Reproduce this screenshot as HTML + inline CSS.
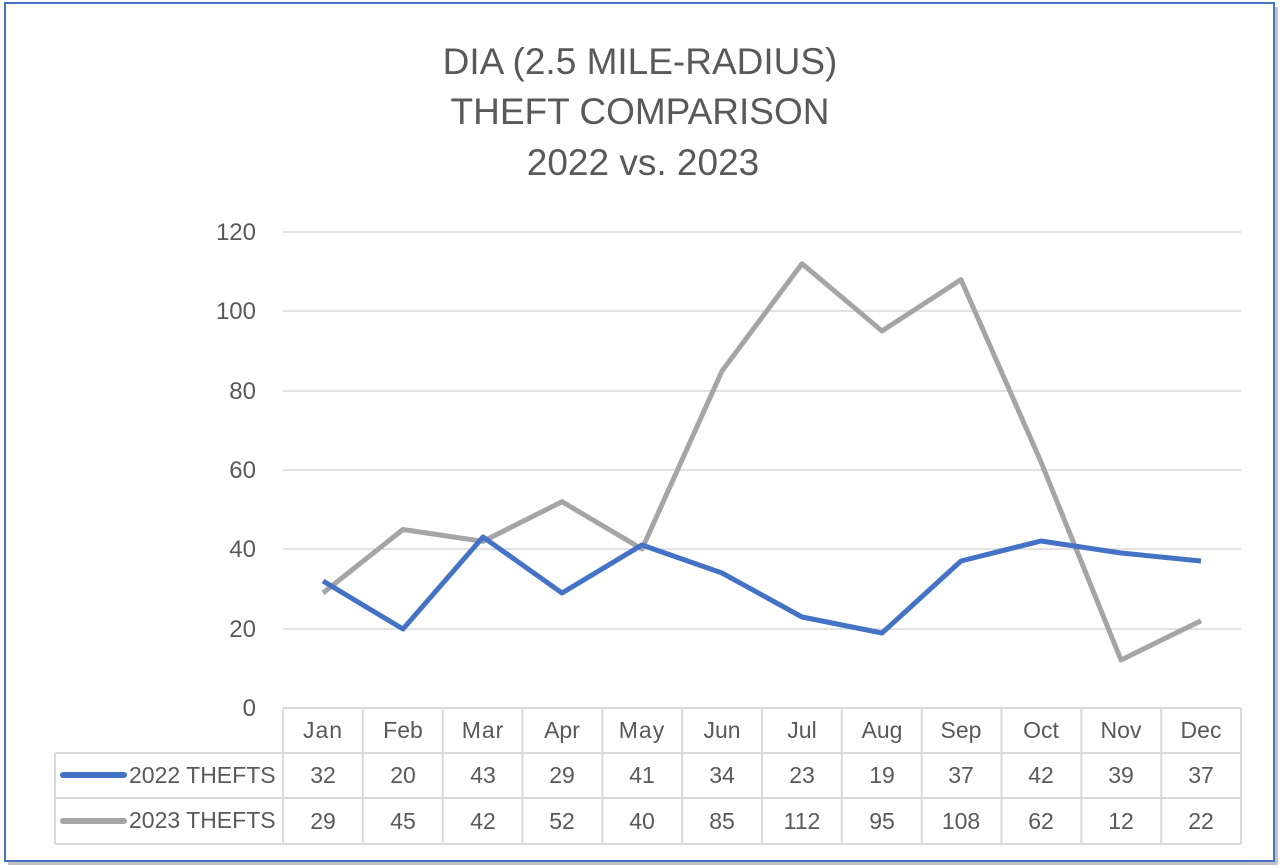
<!DOCTYPE html>
<html><head><meta charset="utf-8"><style>
html,body{margin:0;padding:0;background:#fff;width:1280px;height:868px;overflow:hidden}
svg{display:block;font-family:"Liberation Sans",sans-serif}
</style></head><body>
<svg width="1280" height="868" viewBox="0 0 1280 868">
<rect x="0" y="0" width="1280" height="868" fill="#fff"/>
<rect x="8" y="7" width="1270" height="858" fill="#9a9a9a" opacity="0.6"/>
<rect x="5" y="3" width="1269" height="858" fill="#fff" stroke="#4a72c4" stroke-width="2"/>
<g fill="#595959" font-size="37" text-anchor="middle">
<text x="640" y="74">DIA (2.5 MILE-RADIUS)</text>
<text x="640" y="124">THEFT COMPARISON</text>
<text x="643" y="175">2022 vs. 2023</text>
</g>
<g stroke="#d9d9d9" stroke-width="1.5">
<line x1="283" y1="232" x2="1241" y2="232"/>
<line x1="283" y1="311" x2="1241" y2="311"/>
<line x1="283" y1="391" x2="1241" y2="391"/>
<line x1="283" y1="470" x2="1241" y2="470"/>
<line x1="283" y1="549" x2="1241" y2="549"/>
<line x1="283" y1="629" x2="1241" y2="629"/>
</g>
<g fill="#595959" font-size="24" text-anchor="end">
<text x="256" y="240">120</text><text x="256" y="319">100</text><text x="256" y="399">80</text>
<text x="256" y="478">60</text><text x="256" y="557">40</text><text x="256" y="637">20</text><text x="256" y="716">0</text>
</g>
<g stroke="#d9d9d9" stroke-width="2" fill="none">
<line x1="283" y1="708" x2="1241" y2="708"/>
<line x1="55" y1="753" x2="1241" y2="753"/>
<line x1="55" y1="798" x2="1241" y2="798"/>
<line x1="55" y1="844" x2="1241" y2="844"/>
<line x1="55" y1="753" x2="55" y2="844"/>
<line x1="283" y1="708" x2="283" y2="844"/>
<line x1="362.8" y1="708" x2="362.8" y2="844"/><line x1="442.7" y1="708" x2="442.7" y2="844"/>
<line x1="522.5" y1="708" x2="522.5" y2="844"/><line x1="602.3" y1="708" x2="602.3" y2="844"/>
<line x1="682.2" y1="708" x2="682.2" y2="844"/><line x1="762" y1="708" x2="762" y2="844"/>
<line x1="841.8" y1="708" x2="841.8" y2="844"/><line x1="921.7" y1="708" x2="921.7" y2="844"/>
<line x1="1001.5" y1="708" x2="1001.5" y2="844"/><line x1="1081.3" y1="708" x2="1081.3" y2="844"/>
<line x1="1161.2" y1="708" x2="1161.2" y2="844"/><line x1="1241" y1="708" x2="1241" y2="844"/>
</g>
<polyline fill="none" stroke="#a5a5a5" stroke-width="5" stroke-linejoin="round" points="323,593 403,529.5 483,541.4 562,501.7 642,549 722,371 802,263.7 882,331 961,279.6 1041,462 1121,660 1201,620.7"/>
<polyline fill="none" stroke="#4472c4" stroke-width="5" stroke-linejoin="round" points="323,581 403,629 483,537 562,593 642,545 722,573 802,617 882,633 961,561 1041,541 1121,553 1201,561"/>
<g fill="#595959" font-size="23" text-anchor="middle">
<text x="323" y="738" letter-spacing="1">Jan</text><text x="403" y="738">Feb</text><text x="483" y="738" letter-spacing="1">Mar</text>
<text x="562" y="738">Apr</text><text x="642" y="738" letter-spacing="1">May</text><text x="722" y="738">Jun</text>
<text x="802" y="738">Jul</text><text x="882" y="738">Aug</text><text x="961" y="738">Sep</text>
<text x="1041" y="738">Oct</text><text x="1121" y="738">Nov</text><text x="1201" y="738">Dec</text>
<text x="323" y="783">32</text><text x="403" y="783">20</text><text x="483" y="783">43</text><text x="562" y="783">29</text>
<text x="642" y="783">41</text><text x="722" y="783">34</text><text x="802" y="783">23</text><text x="882" y="783">19</text>
<text x="961" y="783">37</text><text x="1041" y="783">42</text><text x="1121" y="783">39</text><text x="1201" y="783">37</text>
<text x="323" y="829">29</text><text x="403" y="829">45</text><text x="483" y="829">42</text><text x="562" y="829">52</text>
<text x="642" y="829">40</text><text x="722" y="829">85</text><text x="802" y="829">112</text><text x="882" y="829">95</text>
<text x="961" y="829">108</text><text x="1041" y="829">62</text><text x="1121" y="829">12</text><text x="1201" y="829">22</text>
</g>
<line x1="63" y1="775" x2="124" y2="775" stroke="#4472c4" stroke-width="6" stroke-linecap="round"/>
<line x1="63" y1="821" x2="124" y2="821" stroke="#a5a5a5" stroke-width="6" stroke-linecap="round"/>
<g fill="#595959" font-size="23">
<text x="129" y="783">2022 THEFTS</text>
<text x="129" y="828">2023 THEFTS</text>
</g>
</svg>
</body></html>
